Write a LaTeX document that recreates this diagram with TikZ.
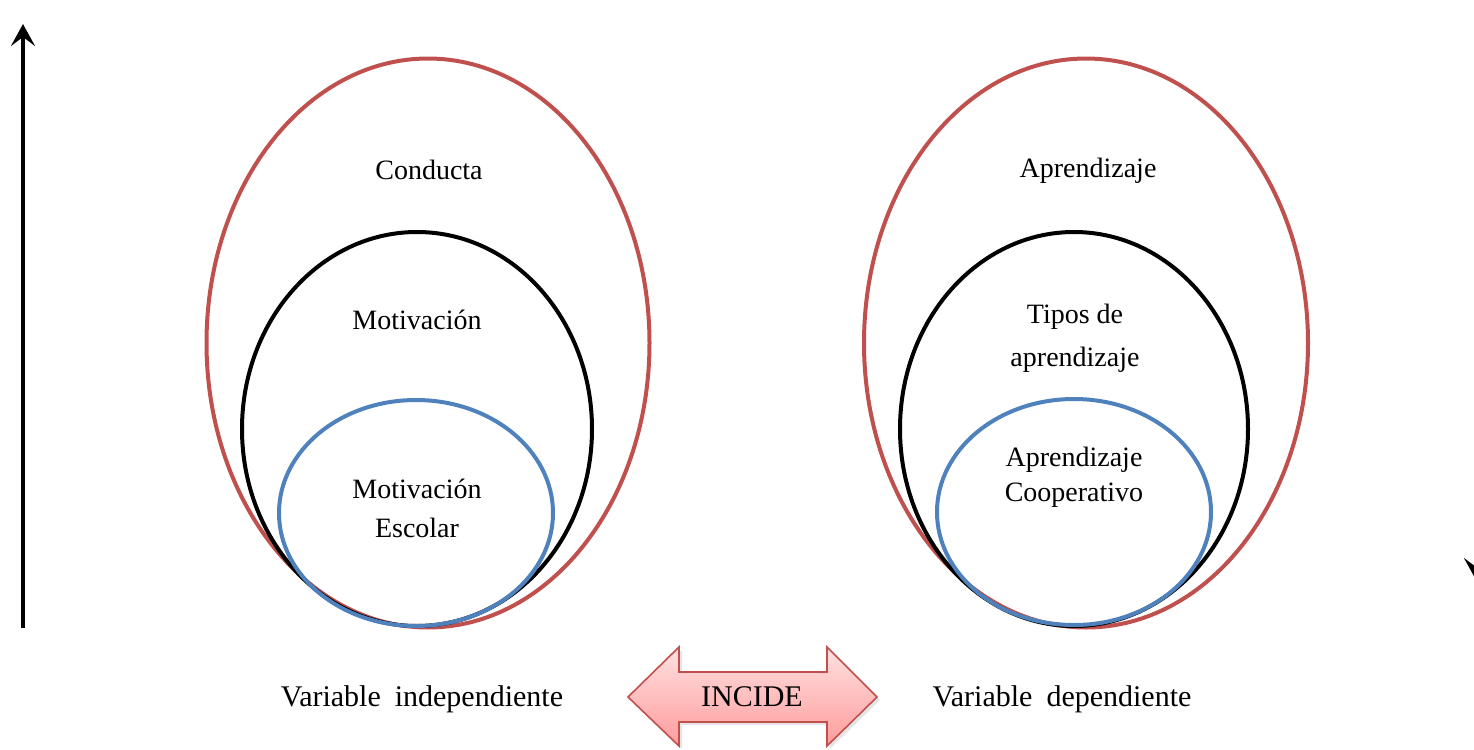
\documentclass[tikz,border=0pt]{standalone}
\usepackage{fontspec}
\setmainfont{Liberation Serif}
\usetikzlibrary{shapes.geometric,arrows.meta,shadows}
\definecolor{ellred}{HTML}{C0504D}
\definecolor{ellblue}{HTML}{4F81BD}
\definecolor{arrtop}{HTML}{FFE0E0}
\definecolor{arrbot}{HTML}{FF9C9C}
\begin{document}
\begin{tikzpicture}[x=0.5pt,y=-0.5pt,
  ell/.style={ellipse,draw,line width=2pt,inner sep=0pt,outer sep=0pt},
  redell/.style={ell,draw=ellred},
  blackell/.style={ell,draw=black},
  blueell/.style={ell,draw=ellblue},
  lbl/.style={font=\fontsize{14}{17.5}\selectfont,align=center,inner sep=1pt},
  botlbl/.style={font=\fontsize{15}{18}\selectfont,inner sep=1pt},
  axis/.style={line width=2pt,-{Stealth[length=11pt,width=12pt,inset=4.5pt]}}]
\useasboundingbox (0,0) rectangle (1474,750);
% left variable
\node[redell,minimum width=221.5pt,minimum height=284.5pt] (lr) at (428,343) {};
\node[blackell,minimum width=175pt,minimum height=197pt] (lb) at (417,429) {};
\node[blueell,minimum width=137pt,minimum height=113pt] (lu) at (416,513) {};
% right variable
\node[redell,minimum width=222pt,minimum height=284.5pt] (rr) at (1086,343) {};
\node[blackell,minimum width=174pt,minimum height=197pt] (rb) at (1074,429) {};
\node[blueell,minimum width=137pt,minimum height=113pt] (ru) at (1074,512) {};
% labels
\node[lbl] (t1) at (429,170) {Conducta};
\node[lbl] (t2) at (417,320) {Motivación};
\node[lbl] (t3) at (417,508) {Motivación\\[2pt]Escolar};
\node[lbl] (t4) at (1088,171) {Aprendizaje};
\node[lbl] (t5) at (1075,338) {Tipos de\\[4pt]aprendizaje};
\node[lbl] (t6) at (1074,477) {Aprendizaje\\Cooperativo};
\node[botlbl] (vi) at (422,699) {Variable\hspace{7pt}independiente};
\node[botlbl] (vd) at (1062,699) {Variable\hspace{7pt}dependiente};
% double arrow INCIDE
\fill[gray!40,opacity=0.5] (631,700) -- (682,650) -- (682,675) -- (830,675) -- (830,650) -- (880,700) -- (830,749) -- (830,725) -- (682,725) -- (682,749) -- cycle;
\draw[draw=ellred,line width=0.8pt,top color=arrtop,bottom color=arrbot]
  (628,697) -- (679,647) -- (679,672) -- (827,672) -- (827,647) -- (877,697)
  -- (827,746) -- (827,722) -- (679,722) -- (679,746) -- cycle;
\node[botlbl] (inc) at (752,697) {INCIDE};
% axis arrows
\coordinate (la0) at (23,628);
\coordinate (la1) at (23,24);
\draw[axis] (la0) -- (la1);
\coordinate (ra0) at (1476,25);
\coordinate (ra1) at (1476,580);
\draw[axis] (ra0) -- (ra1);
\end{tikzpicture}
\end{document}
